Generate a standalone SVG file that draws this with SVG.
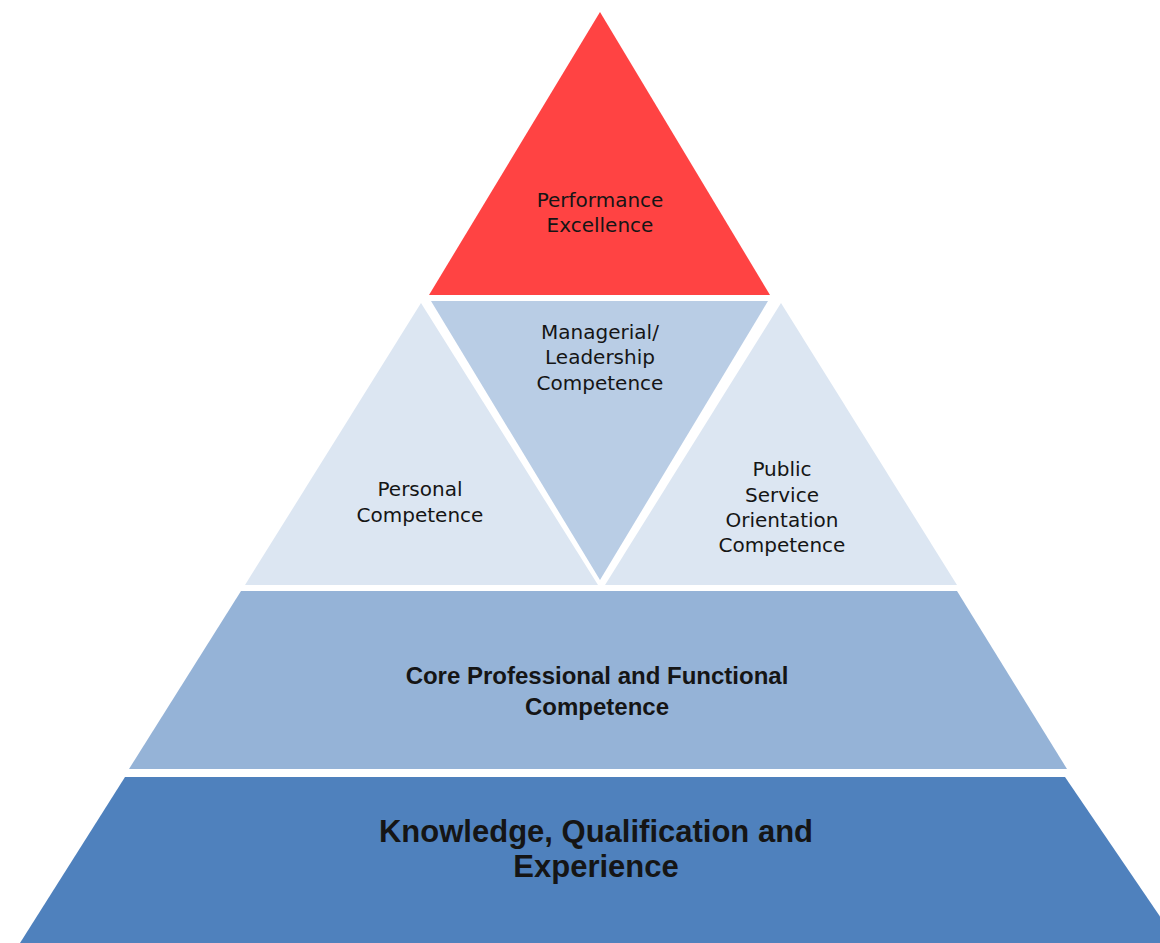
<svg xmlns="http://www.w3.org/2000/svg" width="1160" height="943" viewBox="0 0 1160 943">
<style>
  .lbl { font-family: "DejaVu Sans", "Liberation Sans", sans-serif; font-size: 20px; fill: #151515; text-anchor: middle; }
  .band { font-family: "Liberation Sans", Arial, sans-serif; font-weight: bold; fill: #151515; text-anchor: middle; }
</style>
<rect x="0" y="0" width="1160" height="943" fill="#ffffff"/>
<g id="performance-excellence">
  <polygon points="600,12 770,295 429,295" fill="#FF4343"/>
  <text class="lbl" x="600" y="207">Performance</text>
  <text class="lbl" x="600" y="232">Excellence</text>
</g>
<g id="managerial-leadership">
  <polygon points="431,301 768,301 600,580" fill="#B9CDE5"/>
  <text class="lbl" x="600" y="339">Managerial/</text>
  <text class="lbl" x="600" y="364">Leadership</text>
  <text class="lbl" x="600" y="390">Competence</text>
</g>
<g id="personal-competence">
  <polygon points="421,303 598,585 245,585" fill="#DCE6F2"/>
  <text class="lbl" x="420" y="496">Personal</text>
  <text class="lbl" x="420" y="522">Competence</text>
</g>
<g id="public-service">
  <polygon points="781,303 957,585 605,585" fill="#DCE6F2"/>
  <text class="lbl" x="782" y="476">Public</text>
  <text class="lbl" x="782" y="502">Service</text>
  <text class="lbl" x="782" y="527">Orientation</text>
  <text class="lbl" x="782" y="552">Competence</text>
</g>
<g id="core-professional">
  <polygon points="241,591 957,591 1067,769 129,769" fill="#95B3D7"/>
  <text class="band" x="597" y="684" font-size="24">Core Professional and Functional</text>
  <text class="band" x="597" y="715" font-size="24">Competence</text>
</g>
<g id="knowledge">
  <polygon points="125,777 1065,777 1178,943 20,943" fill="#4F81BD"/>
  <text class="band" x="596" y="842" font-size="31">Knowledge, Qualification and</text>
  <text class="band" x="596" y="877" font-size="31">Experience</text>
</g>
<g id="connectors"/>
</svg>
